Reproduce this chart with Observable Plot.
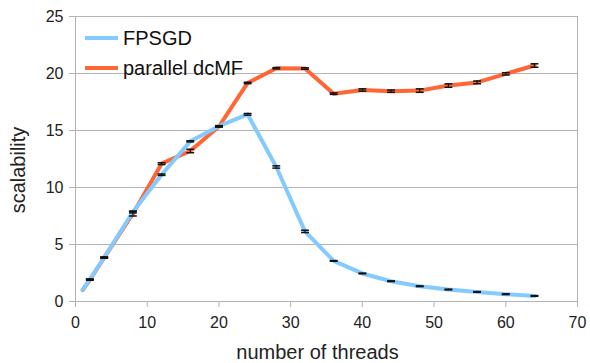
<!DOCTYPE html>
<html>
<head>
<meta charset="utf-8">
<script src="https://cdn.jsdelivr.net/npm/d3@7"></script>
<script src="https://cdn.jsdelivr.net/npm/@observablehq/plot@0.6"></script>
<style>
  body { margin: 0; background: #fff; }
  #wrap { position: relative; width: 590px; height: 363px; font-family: "Liberation Sans", Arial, sans-serif; }
  #legend { position: absolute; left: 85px; top: 23px; font-size: 20px; color: #111; }
  .item { display: flex; align-items: center; height: 30px; }
  .sw { width: 33px; height: 4px; margin-right: 5px; }
</style>
</head>
<body>
<div id="wrap"></div>
<script>
const threads  = [1, 2, 4, 8, 12, 16, 20, 24, 28, 32, 36, 40, 44, 48, 52, 56, 60, 64];
const fpsgd    = [1.03, 1.94, 3.86, 7.85, 11.12, 14.05, 15.38, 16.42, 11.8, 6.15, 3.56, 2.46, 1.78, 1.34, 1.05, 0.84, 0.64, 0.49];
const fpsgdErr = [0, 0.04, 0.04, 0.08, 0.06, 0.05, 0.05, 0.07, 0.1, 0.1, 0.03, 0.03, 0.03, 0.03, 0.03, 0.03, 0.03, 0.03];
const dcmf     = [1.0, 1.9, 3.85, 7.7, 12.09, 13.2, 15.35, 19.17, 20.46, 20.44, 18.23, 18.55, 18.45, 18.5, 18.94, 19.22, 19.97, 20.7];
const dcmfErr  = [0, 0.04, 0.05, 0.2, 0.08, 0.15, 0.06, 0.06, 0.06, 0.06, 0.06, 0.1, 0.1, 0.15, 0.15, 0.12, 0.1, 0.15];
const seriesNames = ["FPSGD", "parallel dcMF"];
const seriesColors = ["#83caff", "#ff6633"];
const xTicks = [0, 10, 20, 30, 40, 50, 60, 70];
const yTicks = [0, 5, 10, 15, 20, 25];
const xTitle = "number of threads";
const yTitle = "scalability";

const rows = [];
threads.forEach((t, i) => {
  rows.push({x: t, y: fpsgd[i], e: fpsgdErr[i], s: seriesNames[0]});
  rows.push({x: t, y: dcmf[i], e: dcmfErr[i], s: seriesNames[1]});
});
const errRows = rows.filter(d => d.e > 0);
const byS = s => rows.filter(d => d.s === s);

const grid = "#b3b3b3";
const chart = Plot.plot({
  width: 590,
  height: 363,
  marginTop: 16,
  marginRight: 13,
  marginBottom: 62,
  marginLeft: 75,
  style: {fontFamily: "Liberation Sans, Arial, sans-serif", fontSize: "16px", color: "#222", background: "#fff"},
  x: {domain: [0, 70]},
  y: {domain: [0, 25]},
  marks: [
    Plot.gridY(yTicks, {stroke: grid, strokeOpacity: 1}),
    Plot.ruleX([70], {stroke: grid}),
    Plot.ruleX([0], {stroke: grid}),
    Plot.ruleY([0], {stroke: grid}),
    Plot.axisY(yTicks, {tickSize: 6, tickPadding: 6, stroke: grid, fill: "#222", fontSize: 16, label: null}),
    Plot.axisX(xTicks, {tickSize: 6, tickPadding: 9, stroke: grid, fill: "#222", fontSize: 16, label: null}),
    Plot.text([xTitle], {text: d => d, frameAnchor: "bottom", dx: -9, dy: 57, lineAnchor: "bottom", fontSize: 20, fill: "#222"}),
    Plot.text([yTitle], {text: d => d, frameAnchor: "left", textAnchor: "middle", rotate: -90, dx: -57, dy: 11, lineAnchor: "middle", fontSize: 20, fill: "#222"}),
    Plot.line(byS(seriesNames[1]), {x: "x", y: "y", stroke: seriesColors[1], strokeWidth: 4, strokeLinejoin: "round"}),
    Plot.line(byS(seriesNames[0]), {x: "x", y: "y", stroke: seriesColors[0], strokeWidth: 4, strokeLinejoin: "round"}),
    Plot.ruleX(errRows, {x: "x", y1: d => d.y - d.e, y2: d => d.y + d.e, stroke: "#111", strokeWidth: 1.2}),
    Plot.link(errRows, {x1: d => d.x - 0.55, x2: d => d.x + 0.55, y1: d => d.y - d.e, y2: d => d.y - d.e, stroke: "#111", strokeWidth: 1.5}),
    Plot.link(errRows, {x1: d => d.x - 0.55, x2: d => d.x + 0.55, y1: d => d.y + d.e, y2: d => d.y + d.e, stroke: "#111", strokeWidth: 1.5})
  ]
});
const wrap = document.getElementById("wrap");
wrap.appendChild(chart);
const legend = document.createElement("div");
legend.id = "legend";
seriesNames.forEach((n, i) => {
  const it = document.createElement("div");
  it.className = "item";
  const sw = document.createElement("div");
  sw.className = "sw";
  sw.style.background = seriesColors[i];
  const tx = document.createElement("span");
  tx.textContent = n;
  it.appendChild(sw); it.appendChild(tx);
  legend.appendChild(it);
});
wrap.appendChild(legend);
</script>
</body>
</html>
